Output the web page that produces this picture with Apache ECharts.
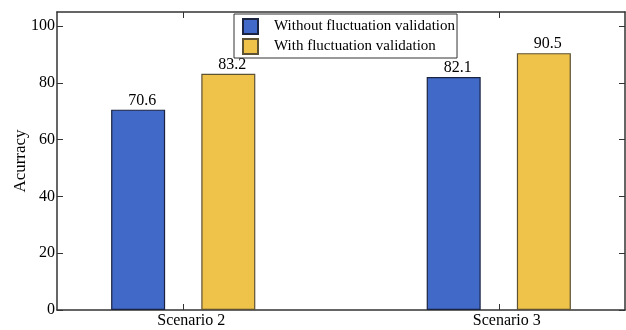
<!DOCTYPE html>
<html><head><meta charset="utf-8">
<script src="https://cdn.jsdelivr.net/npm/echarts@6/dist/echarts.min.js"></script>
<style>html,body{margin:0;padding:0;background:#fff}#c{width:626px;height:330px}</style>
</head><body><div id="c"></div>
<script>
const categories = ['Scenario 2', 'Scenario 3'];
const positions = [1, 2];
const withoutVals = [70.6, 82.1];
const withVals = [83.2, 90.5];
const yTicks = [0, 20, 40, 60, 80, 100];
const seriesNames = ['Without fluctuation validation', 'With fluctuation validation'];

const font = 'Liberation Serif';
const axisColor = '#333';
const chart = echarts.init(document.getElementById('c'), null, {renderer: 'canvas'});
const lbl = {show: true, position: 'top', distance: 1, offset: [4, 0], color: '#000', fontFamily: font, fontSize: 16};
chart.setOption({
  animation: false,
  grid: {left: 57, right: 1, top: 12, bottom: 20, containLabel: false, outerBoundsMode: 'none'},
  legend: {
    orient: 'vertical', left: 234, top: 14, itemWidth: 15, itemHeight: 15, itemGap: 3,
    padding: [4, 2, 3, 8], borderColor: '#333', borderWidth: 1, icon: 'rect',
    textStyle: {fontFamily: font, fontSize: 15, color: '#000', padding: [0, 0, 0, 11]},
    data: seriesNames
  },
  xAxis: [{
    type: 'value', min: 0.6, max: 2.4, position: 'bottom',
    axisLine: {show: true, onZero: false, lineStyle: {color: axisColor, width: 1.5}},
    axisTick: {show: true, inside: true, length: 6, customValues: positions, lineStyle: {color: axisColor}},
    axisLabel: {customValues: positions, formatter: v => categories[positions.indexOf(v)] || '',
      fontFamily: font, fontSize: 16, color: '#000', margin: 3, padding: [0, 0, 0, 16]},
    splitLine: {show: false}
  }, {
    type: 'value', min: 0.6, max: 2.4, position: 'top',
    axisLine: {show: true, onZero: false, lineStyle: {color: axisColor, width: 1.5}},
    axisTick: {show: true, inside: true, length: 6, customValues: positions, lineStyle: {color: axisColor}},
    axisLabel: {show: false}, splitLine: {show: false}
  }],
  yAxis: [{
    type: 'value', min: 0, max: 105, position: 'left',
    name: 'Acurracy', nameLocation: 'middle', nameGap: 28, nameRotate: 90, nameMoveOverlap: false,
    nameTextStyle: {fontFamily: font, fontSize: 17, color: '#000'},
    axisLine: {show: true, onZero: false, lineStyle: {color: axisColor, width: 1.5}},
    axisTick: {show: true, inside: true, length: 6, customValues: yTicks, lineStyle: {color: axisColor}},
    axisLabel: {customValues: yTicks, fontFamily: font, fontSize: 16, color: '#000', margin: 2},
    splitLine: {show: false}
  }, {
    type: 'value', min: 0, max: 105, position: 'right',
    axisLine: {show: true, onZero: false, lineStyle: {color: axisColor, width: 1.5}},
    axisTick: {show: true, inside: true, length: 6, customValues: yTicks, lineStyle: {color: axisColor}},
    axisLabel: {show: false}, splitLine: {show: false}
  }],
  series: [{
    name: seriesNames[0], type: 'bar', xAxisIndex: 0, yAxisIndex: 0,
    barWidth: 54, barGap: '67%',
    itemStyle: {color: '#4169C8', borderColor: '#1a2340', borderWidth: 1.2},
    label: lbl,
    data: positions.map((p, i) => [p, withoutVals[i]])
  }, {
    name: seriesNames[1], type: 'bar', xAxisIndex: 0, yAxisIndex: 0,
    barWidth: 54, barGap: '67%',
    itemStyle: {color: '#EFC24A', borderColor: '#5e5235', borderWidth: 1.2},
    label: lbl,
    data: positions.map((p, i) => [p, withVals[i]])
  }]
});
</script></body></html>
